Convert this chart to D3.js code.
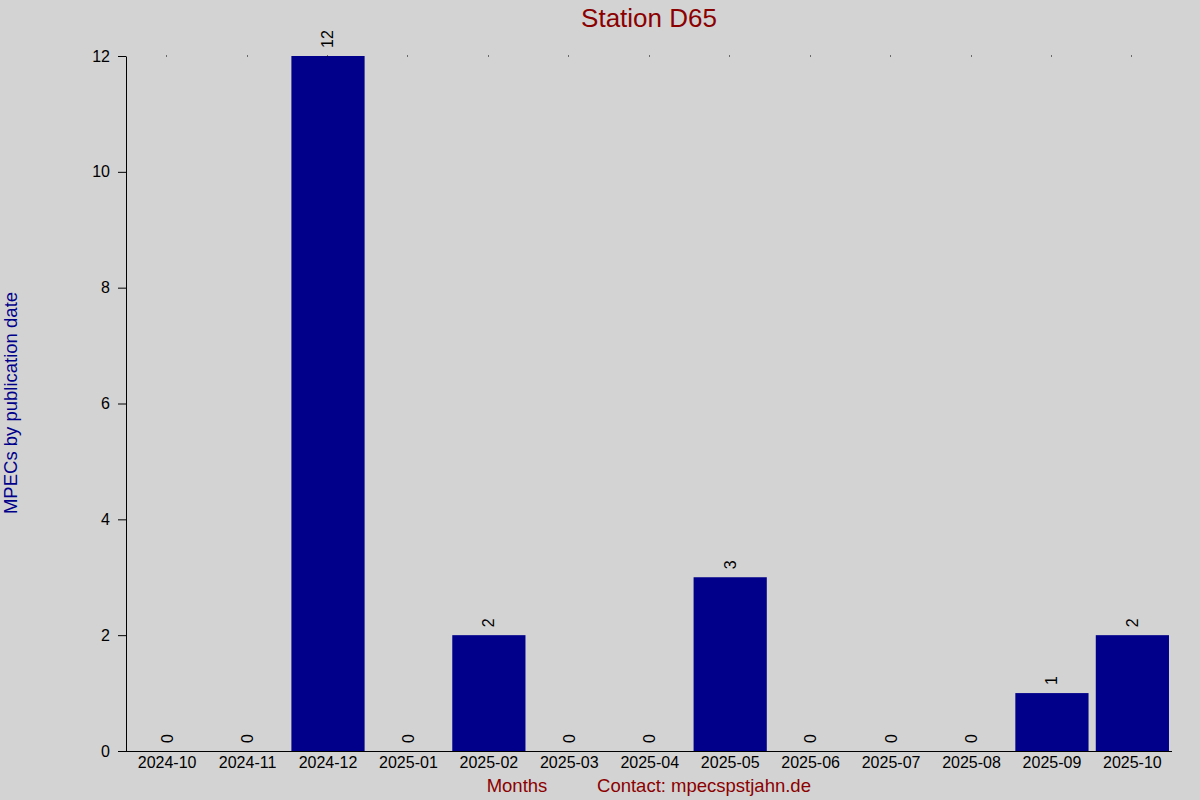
<!DOCTYPE html>
<html><head><meta charset="utf-8">
<script src="https://cdn.jsdelivr.net/npm/d3@7"></script>
<style>body{margin:0;background:#d3d3d3}svg{display:block}text{font-family:"Liberation Sans",Arial,sans-serif}</style>
</head><body>
<svg id="c" width="1200" height="800"></svg>
<script>
const months = ["2024-10","2024-11","2024-12","2025-01","2025-02","2025-03","2025-04","2025-05","2025-06","2025-07","2025-08","2025-09","2025-10"];
const counts = [0,0,12,0,2,0,0,3,0,0,0,1,2];
const yTicks = [0,2,4,6,8,10,12];

const svg = d3.select("#c");
svg.append("rect").attr("width",1200).attr("height",800).attr("fill","#d3d3d3");

const x = d3.scaleBand().domain(months).range([126.5,1173]).paddingInner(0.09).paddingOuter(0.05);
const y = d3.scaleLinear().domain([0,12]).range([751,56]);

// bars
svg.append("g").selectAll("rect").data(months).join("rect")
  .attr("x", d=>x(d)).attr("width", x.bandwidth())
  .attr("y", (d,i)=>y(counts[i])).attr("height", (d,i)=>y(0)-y(counts[i]))
  .attr("fill","#00008b");

// value labels
svg.append("g").selectAll("text").data(months).join("text")
  .attr("transform",(d,i)=>`translate(${x(d)+x.bandwidth()/2+5.5},${y(counts[i])-8}) rotate(-90)`)
  .attr("text-anchor","start").attr("font-size",16).attr("fill","#000")
  .text((d,i)=>counts[i]);

// tiny dots at top
svg.append("g").selectAll("rect").data(months).join("rect")
  .attr("x", d=>Math.round(x(d)+x.bandwidth()/2-1)).attr("y",55.5).attr("width",1).attr("height",1).attr("fill","#000");

// y axis
const ya = svg.append("g").attr("transform","translate(126,0)")
  .call(d3.axisLeft(y).tickValues(yTicks).tickSize(8).tickSizeOuter(0).tickPadding(8));
ya.select(".domain").attr("stroke","#000");
ya.selectAll(".tick line").attr("stroke","#000");
ya.selectAll(".tick text").attr("font-size",16).attr("fill","#000").attr("font-family","Liberation Sans, Arial, sans-serif");

// x axis
const xa = svg.append("g").attr("transform","translate(0,751)")
  .call(d3.axisBottom(x).tickSize(0).tickSizeOuter(0).tickPadding(6));
xa.select(".domain").remove();
xa.selectAll(".tick text").attr("font-size",16).attr("fill","#000").attr("font-family","Liberation Sans, Arial, sans-serif");
svg.append("line").attr("x1",118).attr("x2",1172).attr("y1",751.5).attr("y2",751.5).attr("stroke","#000");

// title & labels
svg.append("text").attr("x",649).attr("y",27).attr("text-anchor","middle").attr("font-size",26).attr("fill","#8b0000").text("Station D65");
svg.append("text").attr("transform","translate(17,403) rotate(-90)").attr("text-anchor","middle").attr("font-size",18.5).attr("fill","#00008b").text("MPECs by publication date");
svg.append("text").attr("x",517).attr("y",792).attr("text-anchor","middle").attr("font-size",18.5).attr("fill","#8b0000").text("Months");
svg.append("text").attr("x",704).attr("y",792).attr("text-anchor","middle").attr("font-size",18.5).attr("fill","#8b0000").text("Contact: mpecspstjahn.de");
</script>
</body></html>
